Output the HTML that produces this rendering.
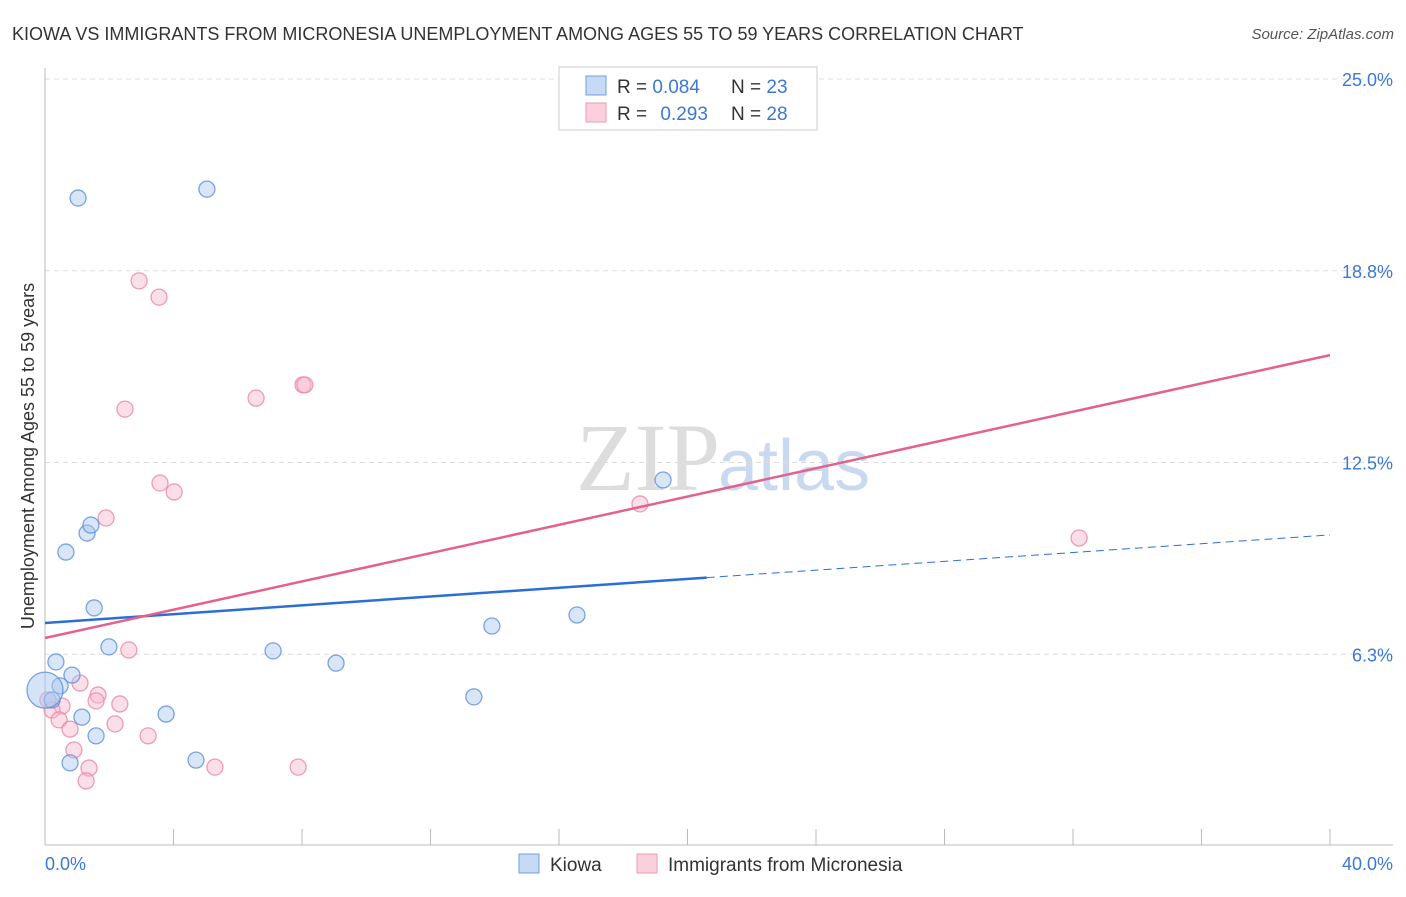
<!DOCTYPE html>
<html><head><meta charset="utf-8"><style>
body{margin:0;background:#fff;font-family:"Liberation Sans",sans-serif}
</style></head><body>
<svg width="1406" height="892" xmlns="http://www.w3.org/2000/svg" font-family="Liberation Sans, sans-serif">
<text x="12" y="40" font-size="18" fill="#333">KIOWA VS IMMIGRANTS FROM MICRONESIA UNEMPLOYMENT AMONG AGES 55 TO 59 YEARS CORRELATION CHART</text>
<text x="1394" y="39" font-size="15" fill="#555" font-style="italic" text-anchor="end">Source: ZipAtlas.com</text>
<text x="720" y="490" font-size="96" fill="#ddd" text-anchor="end" font-family="Liberation Serif, serif">ZIP</text>
<text x="718" y="490" font-size="72" fill="#c9daf0">atlas</text>
<g id="grid"></g><g id="axes"></g><g id="marks"></g>
<text transform="translate(34,456) rotate(-90)" font-size="18" fill="#333" text-anchor="middle">Unemployment Among Ages 55 to 59 years</text>
<text x="45" y="870" font-size="18" fill="#3b78d8">0.0%</text>
<text x="1393" y="870" font-size="18" fill="#3b78d8" text-anchor="end">40.0%</text>
<g>
<rect x="559" y="67" width="258" height="63" fill="#fff" stroke="#ccc"/>
<rect x="586" y="76" width="20" height="19" fill="#c6d9f5" stroke="#6fa0e0"/>
<rect x="586" y="103" width="20" height="19" fill="#fbd0dc" stroke="#ee9ab2"/>
<text x="617" y="93" font-size="19" fill="#333">R = <tspan fill="#3b78d8">0.084</tspan><tspan x="731">N = </tspan><tspan fill="#3b78d8">23</tspan></text>
<text x="617" y="120" font-size="19" fill="#333">R = <tspan fill="#3b78d8" dx="8">0.293</tspan><tspan x="731">N = </tspan><tspan fill="#3b78d8">28</tspan></text>
</g>
<g>
<rect x="519" y="854" width="20" height="19" fill="#c6d9f5" stroke="#6fa0e0"/>
<text x="550" y="871" font-size="19" fill="#333">Kiowa</text>
<rect x="637" y="854" width="20" height="19" fill="#fbd0dc" stroke="#ee9ab2"/>
<text x="668" y="871" font-size="19" fill="#333">Immigrants from Micronesia</text>
</g>
</svg>
<script>
const yTicks=[25,18.75,12.5,6.25];
const yTickLabels=["25.0%","18.8%","12.5%","6.3%"];
const xTicks=[0,4,8,12,16,20,24,28,32,36,40];
const kiowaX=[1.03,5.04,0.65,1.31,1.43,1.53,1.99,0.34,0.84,0.47,0.22,1.15,1.59,0.78,3.77,4.70,7.10,9.06,13.91,16.56,13.35,19.24,0];
const kiowaY=[21.12,21.41,9.58,10.20,10.46,7.76,6.49,6.00,5.57,5.22,4.76,4.20,3.59,2.71,4.30,2.80,6.36,5.96,7.17,7.53,4.86,11.93,5.08];
const micX=[2.93,3.55,2.49,6.57,8.03,8.09,3.58,4.02,1.90,18.52,32.19,2.61,1.09,1.65,1.59,2.33,0.53,0.22,0.44,0.78,2.18,3.21,0.90,1.37,1.28,5.29,7.88,0.09];
const micY=[18.42,17.89,14.24,14.60,15.03,15.03,11.83,11.54,10.69,11.15,10.04,6.39,5.31,4.92,4.73,4.63,4.56,4.43,4.11,3.81,3.98,3.59,3.13,2.54,2.12,2.57,2.57,4.76];
const kiowaTrend=[7.27,10.14];
const micTrend=[6.78,16.0];
const kiowaSolidEnd=20.6;
const NS="http://www.w3.org/2000/svg";
const sx=v=>45+v/40*1285, sy=v=>846-v*30.68;
function mk(t,a,p){const e=document.createElementNS(NS,t);for(const k in a)e.setAttribute(k,a[k]);p.appendChild(e);return e;}
const grid=document.getElementById('grid'),axes=document.getElementById('axes'),marks=document.getElementById('marks');
yTicks.forEach((v,i)=>{
 const l=mk('line',{x1:45,x2:1393,y1:sy(v),y2:sy(v),stroke:'#ddd','stroke-dasharray':'5,4'},grid);
 
 
 const t=mk('text',{x:1393,y:sy(v)+7,'font-size':18,fill:'#3b78d8','text-anchor':'end'},grid);
 t.textContent=yTickLabels[i];
 
 
});
const ya=mk('line',{x1:45,x2:45,y1:68,y2:845,stroke:'#bbb'},axes);


const xa=mk('line',{x1:45,x2:1393,y1:845,y2:845,stroke:'#bbb'},axes);


xTicks.forEach(v=>{
 const t=mk('line',{x1:sx(v),x2:sx(v),y1:829,y2:845,stroke:'#bbb'},axes);
 
 
});
function pts(xs,ys,fill,stroke,name){
 xs.forEach((x,i)=>{
  const big=(x===0);
  const c=mk('circle',{cx:sx(x),cy:sy(ys[i]),r:big?18:8,fill:fill,'fill-opacity':big?0.5:0.45,stroke:stroke,'stroke-width':1.3,'stroke-opacity':0.8},marks);
  
  
 });
}
pts(micX,micY,'#f7b9cb','#e887a4','micronesia-point');
pts(kiowaX,kiowaY,'#aac8f0','#5b8fdc','kiowa-point');
const yAt=(tr,x)=>tr[0]+(tr[1]-tr[0])*x/40;
let l=mk('line',{x1:sx(0),y1:sy(yAt(kiowaTrend,0)),x2:sx(kiowaSolidEnd),y2:sy(yAt(kiowaTrend,kiowaSolidEnd)),stroke:'#2a6fd6','stroke-width':2.5},marks);


l=mk('line',{x1:sx(kiowaSolidEnd),y1:sy(yAt(kiowaTrend,kiowaSolidEnd)),x2:sx(40),y2:sy(yAt(kiowaTrend,40)),stroke:'#2a6fd6','stroke-width':1,'stroke-dasharray':'8,5'},marks);


l=mk('line',{x1:sx(0),y1:sy(micTrend[0]),x2:sx(40),y2:sy(micTrend[1]),stroke:'#e5608c','stroke-width':2.5},marks);


</script>
</body></html>
